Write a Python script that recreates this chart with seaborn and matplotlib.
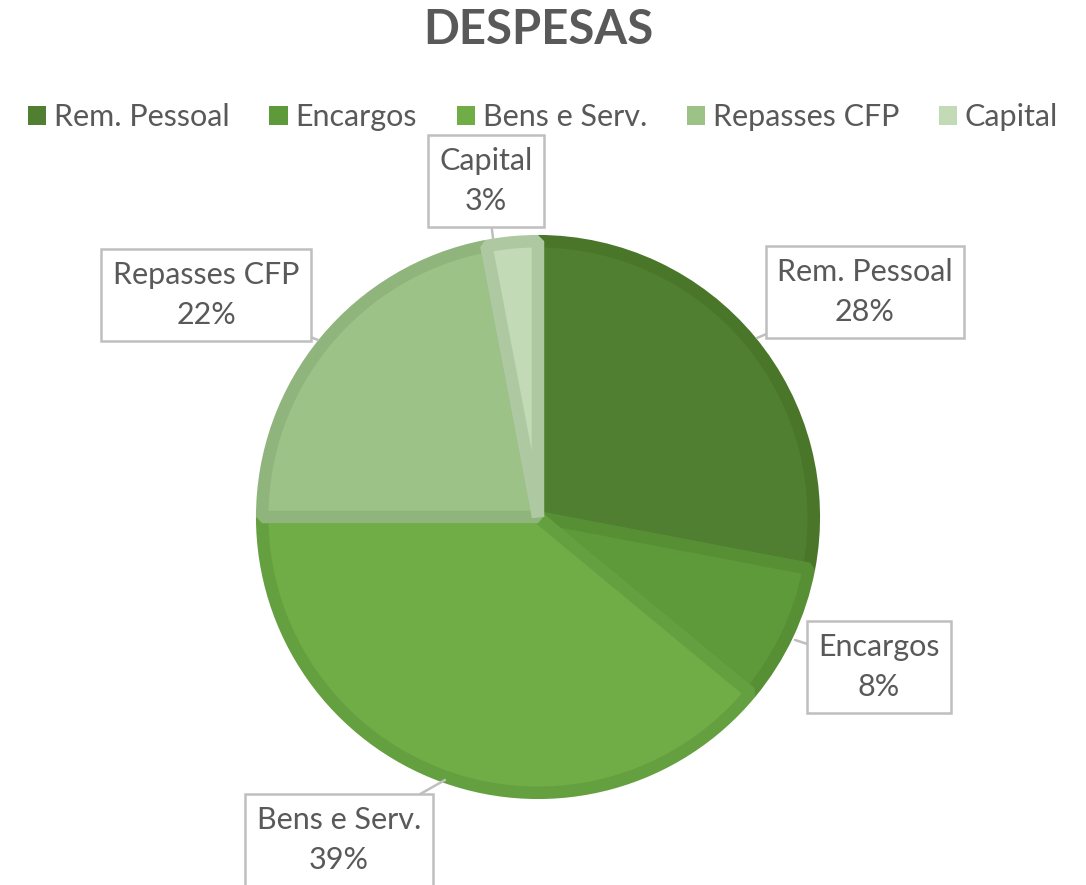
import seaborn as sns
import matplotlib.pyplot as plt
from matplotlib.patches import Patch

# Chart data
categories = ['Rem. Pessoal', 'Encargos', 'Bens e Serv.', 'Repasses CFP', 'Capital']
shares = [28, 8, 39, 22, 3]

# Green monochrome palette (fill and slightly darker border)
fill_colors = ['#507F32', '#5E9A3A', '#70AD47', '#9CC288', '#C2DAB6']
edge_colors = ['#497629', '#578F35', '#64A03F', '#8FB57C', '#AEC8A1']
text_color = '#595959'

sns.set_theme(style='white')
plt.rcParams['font.family'] = ['Lato', 'DejaVu Sans']

W, H = 1086, 885
fig = plt.figure(figsize=(W / 100, H / 100), dpi=100)

# Pie axes: center (538, 517) px, radius 282 px
cx, cy, r = 538, 517, 282
ax = fig.add_axes([(cx - r) / W, (H - cy - r) / H, 2 * r / W, 2 * r / H])
wedges, _ = ax.pie(shares, colors=fill_colors, startangle=90, counterclock=False,
                   radius=0.978, wedgeprops=dict(linewidth=9, joinstyle='bevel'))
for w, ec in zip(wedges, edge_colors):
    w.set_edgecolor(ec)
ax.set_xlim(-1, 1)
ax.set_ylim(-1, 1)
ax.set_aspect('equal')
ax.axis('off')

# Title
fig.text(cx / W, 1 - 30 / H, 'DESPESAS', ha='center', va='center',
         fontsize=34, fontweight='bold', color=text_color)

# Legend
handles = [Patch(facecolor=c, edgecolor='none') for c in fill_colors]
fig.legend(handles, categories, loc='center', bbox_to_anchor=(0.5, 1 - 117 / H),
           ncol=5, frameon=False, fontsize=22, labelcolor=text_color,
           handlelength=0.6, handleheight=0.6, handletextpad=0.25, columnspacing=1.3)

# Data labels (callout boxes): box center px, pointer target px
label_pos = [(865, 292), (879, 667), (339, 840), (206, 295), (486, 181)]
pointer_pos = [(757, 338), (795, 640), (445, 780), (318, 340), (493, 238)]
for name, val, (lx, ly), (px, py) in zip(categories, shares, label_pos, pointer_pos):
    fig.text(lx / W, 1 - ly / H, f'{name}\n{val}%', ha='center', va='center',
             fontsize=22, color=text_color, linespacing=1.55,
             bbox=dict(boxstyle='square,pad=0.38', facecolor='white',
                       edgecolor='#BFBFBF', linewidth=1.8))
    fig.add_artist(plt.Line2D([lx / W, px / W], [1 - ly / H, 1 - py / H],
                              color='#BFBFBF', linewidth=1.8, zorder=0.5))

fig.savefig('out.png', dpi=100)
